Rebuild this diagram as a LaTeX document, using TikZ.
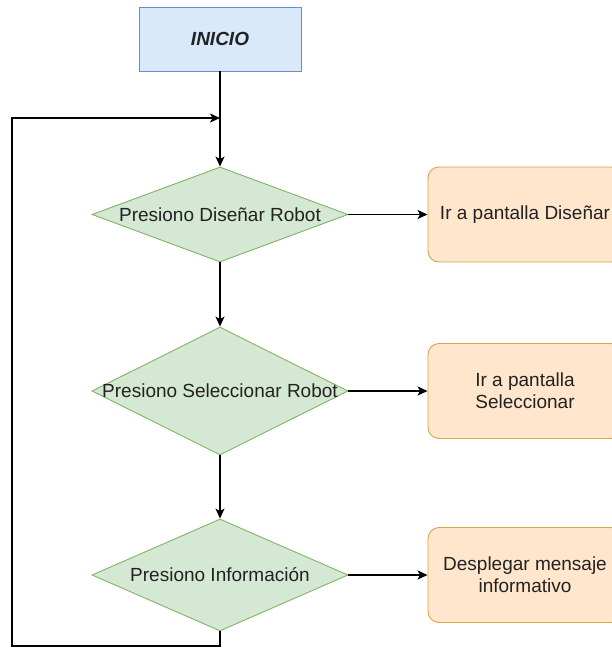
\documentclass[tikz,border=0pt]{standalone}
\usepackage{fontspec}
\setmainfont{Liberation Sans}
\usetikzlibrary{shapes.geometric,arrows.meta}

\definecolor{startfill}{HTML}{DAE8FC}
\definecolor{startline}{HTML}{6C8EBF}
\definecolor{askfill}{HTML}{D5E8D4}
\definecolor{askline}{HTML}{82B366}
\definecolor{actfill}{HTML}{FFE6CC}
\definecolor{actline}{HTML}{D6A64A}
\definecolor{txt}{HTML}{222222}

\tikzset{
  every node/.style={font=\fontsize{19}{22}\selectfont, text=txt},
  startbox/.style={rectangle, draw=startline, fill=startfill, line width=0.9pt,
    minimum width=162pt, minimum height=64pt, inner sep=0pt,
    font=\fontsize{19}{22}\selectfont\bfseries\itshape},
  askbox/.style={diamond, draw=askline, fill=askfill, line width=0.9pt,
    minimum width=256pt, inner sep=0pt},
  actbox/.style={rectangle, rounded corners=11pt, draw=actline, fill=actfill,
    line width=0.9pt, minimum width=194pt, minimum height=95pt, inner sep=0pt,
    align=center},
  flow/.style={draw=black, line width=1.3pt, -{Stealth[length=10pt,width=9pt,inset=2.5pt]}},
}

\newcommand{\asktext}[1]{\makebox[0pt]{#1}}

\begin{document}
\begin{tikzpicture}[x=1pt, y=-1pt]
  \useasboundingbox (0,0) rectangle (612,648);
  \clip (0,0) rectangle (612,648);

  % start box
  \node[startbox] (inicio) at (220,39) {INICIO};

  % decisions
  \node[askbox, minimum height=95pt]  (d1) at (220,214.5) {\asktext{Presiono Diseñar Robot}};
  \node[askbox, minimum height=128pt] (d2) at (220,391)   {\asktext{Presiono Seleccionar Robot}};
  \node[askbox, minimum height=112pt] (d3) at (220,575)   {\asktext{Presiono Información}};

  % actions
  \node[actbox] (b1) at (525,214.5) {Ir a pantalla Diseñar};
  \node[actbox] (b2) at (525,391)   {Ir a pantalla\\Seleccionar};
  \node[actbox] (b3) at (525,575)   {Desplegar mensaje\\informativo};

  % loop-back path points
  \coordinate (lb) at (12,646);
  \coordinate (lt) at (12,118);
  \coordinate (join) at (220,118);

  % main flow
  \draw[flow] (inicio.south) -- (d1.north);
  \draw[flow] (d1.south) -- (d2.north);
  \draw[flow] (d2.south) -- (d3.north);

  % branches
  \draw[flow] (d1.east) -- (b1.west);
  \draw[flow] (d2.east) -- (b2.west);
  \draw[flow] (d3.east) -- (b3.west);

  % return to the top
  \draw[flow] (d3.south) |- (lb) -- (lt) -- (join);
\end{tikzpicture}
\end{document}
